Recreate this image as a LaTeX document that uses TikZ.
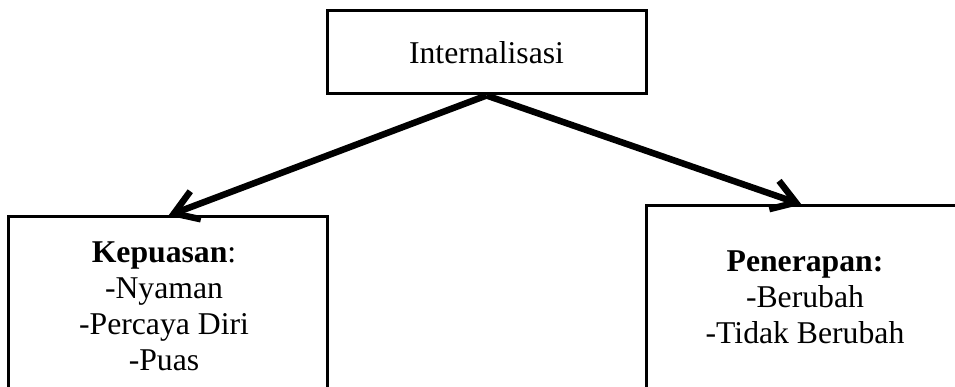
\documentclass[tikz,border=0pt]{standalone}
\usepackage{fontspec}
\setmainfont{Liberation Serif}
\usetikzlibrary{arrows.meta,calc}
\tikzset{
  box/.style={draw=black, line width=3pt, inner sep=0pt, fill=none},
  label/.style={align=center, inner sep=0pt, font=\fontsize{31.7}{36}\selectfont},
  link/.style={line width=6.5pt, -{Straight Barb[length=23pt,width=30pt,line width=6.5pt]}}
}
\begin{document}
\begin{tikzpicture}[x=1pt,y=-1pt]
\useasboundingbox (0,0) rectangle (955,387);
\clip (0,0) rectangle (955,387);
% boxes
\node[box, minimum width=319pt, minimum height=83pt] (top) at (486.5,52.5) {};
\node[box, minimum width=319pt, minimum height=190pt] (lbox) at (167.5,312) {};
\node[box, minimum width=318pt, minimum height=200pt] (rbox) at (805,306) {};
% texts
\node[label] (ttop) at (486.5,52.5) {Internalisasi};
\node[label] (tleft) at (164,306) {\textbf{Kepuasan}:\\-Nyaman\\-Percaya Diri\\-Puas};
\node[label] (tright) at (805,297) {\textbf{Penerapan:}\\-Berubah\\-Tidak Berubah};
% arrow tips on box tops
\coordinate (ltip) at ($(lbox.north west)+(162,0)$);
\coordinate (rtip) at ($(rbox.north west)+(157,0)$);
\draw[link] (top.south) -- (ltip);
\draw[link] (top.south) -- (rtip);
\end{tikzpicture}
\end{document}
